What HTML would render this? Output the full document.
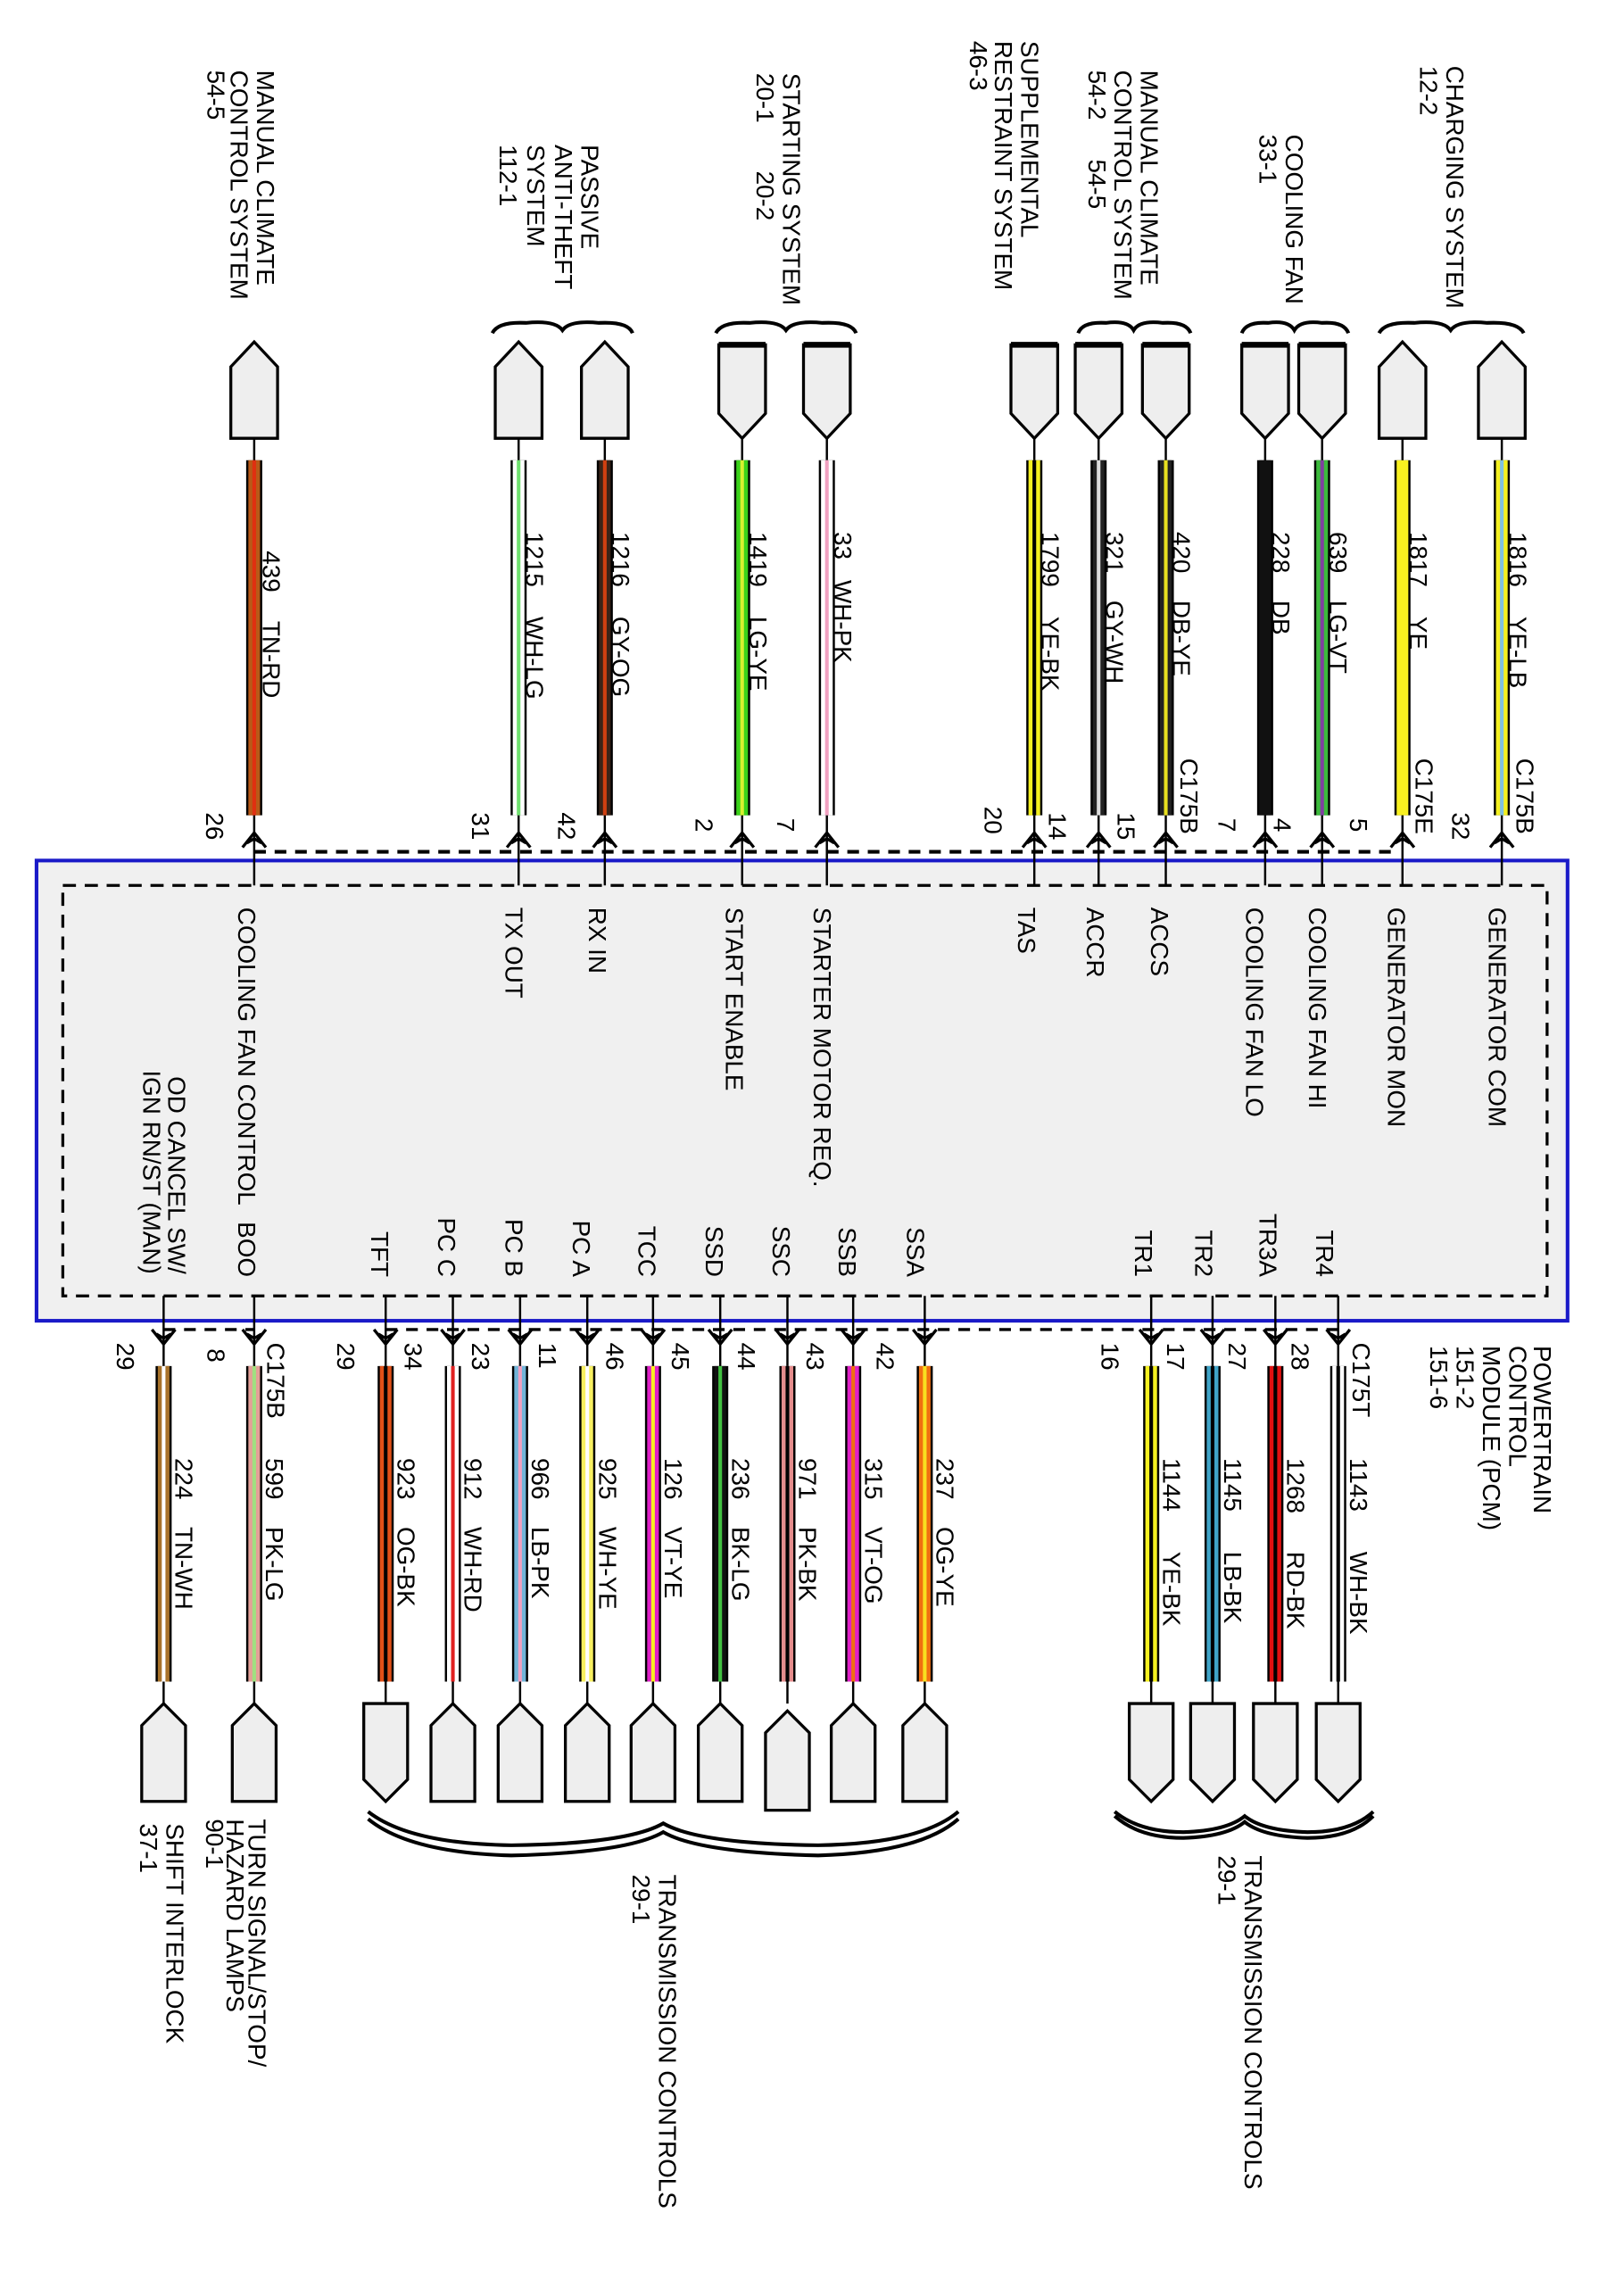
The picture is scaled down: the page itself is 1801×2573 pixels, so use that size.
<!DOCTYPE html>
<html><head><meta charset="utf-8"><style>
html,body{margin:0;padding:0;background:#fff}
svg{display:block}
text{font-family:"Liberation Sans",Arial,sans-serif;font-size:17px;fill:#000}
</style></head><body>
<svg width="1801" height="2573" viewBox="0 0 1100 1571.5" xmlns="http://www.w3.org/2000/svg">
<defs>
<g id="arrUp"><path d="M-8,6 L0,-4 L8,6 M-5,3 L0,0 L5,3" fill="none" stroke="#000" stroke-width="2"/></g>
<g id="arrDn"><path d="M-8,-6 L0,4 L8,-6 M-5,-3 L0,0 L5,-3" fill="none" stroke="#000" stroke-width="2"/></g>
</defs>
<rect x="25" y="589" width="1048" height="315" fill="#f0f0f0" stroke="#1a1ac8" stroke-width="2.5"/>
<rect x="43" y="606" width="1016" height="281" fill="none" stroke="#000" stroke-width="2" stroke-dasharray="9,6"/>
<line x1="174" y1="583" x2="958" y2="583" stroke="#000" stroke-width="2.5" stroke-dasharray="8,6"/>
<line x1="112" y1="910" x2="174" y2="910" stroke="#000" stroke-width="2" stroke-dasharray="8,6"/>
<line x1="264" y1="910" x2="916" y2="910" stroke="#000" stroke-width="2" stroke-dasharray="8,6"/>

<g stroke="#000" stroke-width="1.5">
<line x1="174" y1="300" x2="174" y2="606"/><line x1="355" y1="300" x2="355" y2="606"/>
<line x1="414" y1="300" x2="414" y2="606"/><line x1="508" y1="300" x2="508" y2="606"/>
<line x1="566" y1="300" x2="566" y2="606"/><line x1="708" y1="300" x2="708" y2="606"/>
<line x1="752" y1="300" x2="752" y2="606"/><line x1="798" y1="300" x2="798" y2="606"/>
<line x1="866" y1="300" x2="866" y2="606"/><line x1="905" y1="300" x2="905" y2="606"/>
<line x1="960" y1="300" x2="960" y2="606"/><line x1="1028" y1="300" x2="1028" y2="606"/>
<line x1="112" y1="887" x2="112" y2="1166"/><line x1="174" y1="887" x2="174" y2="1166"/>
<line x1="264" y1="887" x2="264" y2="1166"/><line x1="310" y1="887" x2="310" y2="1166"/>
<line x1="356" y1="887" x2="356" y2="1166"/><line x1="402" y1="887" x2="402" y2="1166"/>
<line x1="447" y1="887" x2="447" y2="1166"/><line x1="493" y1="887" x2="493" y2="1166"/>
<line x1="539" y1="887" x2="539" y2="1166"/><line x1="584" y1="887" x2="584" y2="1166"/>
<line x1="633" y1="887" x2="633" y2="1166"/><line x1="788" y1="887" x2="788" y2="1166"/>
<line x1="830" y1="887" x2="830" y2="1166"/><line x1="873" y1="887" x2="873" y2="1166"/>
<line x1="916" y1="887" x2="916" y2="1166"/>
</g>

<g stroke-linecap="butt">
<g stroke="#000" stroke-width="11">
<line x1="174" y1="315" x2="174" y2="558"/><line x1="355" y1="315" x2="355" y2="558"/><line x1="414" y1="315" x2="414" y2="558"/><line x1="508" y1="315" x2="508" y2="558"/><line x1="566" y1="315" x2="566" y2="558"/><line x1="708" y1="315" x2="708" y2="558"/><line x1="752" y1="315" x2="752" y2="558"/><line x1="798" y1="315" x2="798" y2="558"/><line x1="866" y1="315" x2="866" y2="558"/><line x1="905" y1="315" x2="905" y2="558"/><line x1="960" y1="315" x2="960" y2="558"/><line x1="1028" y1="315" x2="1028" y2="558"/>
<line x1="112" y1="935" x2="112" y2="1151"/><line x1="174" y1="935" x2="174" y2="1151"/><line x1="264" y1="935" x2="264" y2="1151"/><line x1="310" y1="935" x2="310" y2="1151"/><line x1="356" y1="935" x2="356" y2="1151"/><line x1="402" y1="935" x2="402" y2="1151"/><line x1="447" y1="935" x2="447" y2="1151"/><line x1="493" y1="935" x2="493" y2="1151"/><line x1="539" y1="935" x2="539" y2="1151"/><line x1="584" y1="935" x2="584" y2="1151"/><line x1="633" y1="935" x2="633" y2="1151"/><line x1="788" y1="935" x2="788" y2="1151"/><line x1="830" y1="935" x2="830" y2="1151"/><line x1="873" y1="935" x2="873" y2="1151"/><line x1="916" y1="935" x2="916" y2="1151"/>
</g>
<g stroke-width="8">
<line x1="174" y1="315" x2="174" y2="558" stroke="#b85a18"/>
<line x1="355" y1="315" x2="355" y2="558" stroke="#fff"/>
<line x1="414" y1="315" x2="414" y2="558" stroke="#3a2418"/>
<line x1="508" y1="315" x2="508" y2="558" stroke="#3ad21a"/>
<line x1="566" y1="315" x2="566" y2="558" stroke="#fff"/>
<line x1="708" y1="315" x2="708" y2="558" stroke="#f4f020"/>
<line x1="752" y1="315" x2="752" y2="558" stroke="#222"/>
<line x1="798" y1="315" x2="798" y2="558" stroke="#222"/>
<line x1="866" y1="315" x2="866" y2="558" stroke="#111"/>
<line x1="905" y1="315" x2="905" y2="558" stroke="#3cba3c"/>
<line x1="960" y1="315" x2="960" y2="558" stroke="#f8f020"/>
<line x1="1028" y1="315" x2="1028" y2="558" stroke="#f4f020"/>
<line x1="112" y1="935" x2="112" y2="1151" stroke="#a8722a"/>
<line x1="174" y1="935" x2="174" y2="1151" stroke="#e4a098"/>
<line x1="264" y1="935" x2="264" y2="1151" stroke="#e05018"/>
<line x1="310" y1="935" x2="310" y2="1151" stroke="#fff"/>
<line x1="356" y1="935" x2="356" y2="1151" stroke="#70b4d8"/>
<line x1="402" y1="935" x2="402" y2="1151" stroke="#f8f060"/>
<line x1="447" y1="935" x2="447" y2="1151" stroke="#e020c8"/>
<line x1="493" y1="935" x2="493" y2="1151" stroke="#111"/>
<line x1="539" y1="935" x2="539" y2="1151" stroke="#e48c8c"/>
<line x1="584" y1="935" x2="584" y2="1151" stroke="#e020c8"/>
<line x1="633" y1="935" x2="633" y2="1151" stroke="#f07010"/>
<line x1="788" y1="935" x2="788" y2="1151" stroke="#f4f020"/>
<line x1="830" y1="935" x2="830" y2="1151" stroke="#40a4c8"/>
<line x1="873" y1="935" x2="873" y2="1151" stroke="#e01010"/>
<line x1="916" y1="935" x2="916" y2="1151" stroke="#fff"/>
</g>
<g stroke-width="2.5">
<line x1="174" y1="315" x2="174" y2="558" stroke="#e03010"/>
<line x1="355" y1="315" x2="355" y2="558" stroke="#70e070"/>
<line x1="414" y1="315" x2="414" y2="558" stroke="#d04010"/>
<line x1="508" y1="315" x2="508" y2="558" stroke="#d8f030"/>
<line x1="566" y1="315" x2="566" y2="558" stroke="#f0a0c0"/>
<line x1="708" y1="315" x2="708" y2="558" stroke="#000"/>
<line x1="752" y1="315" x2="752" y2="558" stroke="#ddd"/>
<line x1="798" y1="315" x2="798" y2="558" stroke="#e8e020"/>
<line x1="905" y1="315" x2="905" y2="558" stroke="#8040a0"/>
<line x1="1028" y1="315" x2="1028" y2="558" stroke="#80c0e0"/>
<line x1="112" y1="935" x2="112" y2="1151" stroke="#fff"/>
<line x1="174" y1="935" x2="174" y2="1151" stroke="#a0e080"/>
<line x1="264" y1="935" x2="264" y2="1151" stroke="#000"/>
<line x1="310" y1="935" x2="310" y2="1151" stroke="#e02020"/>
<line x1="356" y1="935" x2="356" y2="1151" stroke="#f0a0c0"/>
<line x1="402" y1="935" x2="402" y2="1151" stroke="#fff"/>
<line x1="447" y1="935" x2="447" y2="1151" stroke="#f8f020"/>
<line x1="493" y1="935" x2="493" y2="1151" stroke="#40c040"/>
<line x1="539" y1="935" x2="539" y2="1151" stroke="#000"/>
<line x1="584" y1="935" x2="584" y2="1151" stroke="#f07010"/>
<line x1="633" y1="935" x2="633" y2="1151" stroke="#f8e020"/>
<line x1="788" y1="935" x2="788" y2="1151" stroke="#000"/>
<line x1="830" y1="935" x2="830" y2="1151" stroke="#000"/>
<line x1="873" y1="935" x2="873" y2="1151" stroke="#000"/>
<line x1="916" y1="935" x2="916" y2="1151" stroke="#000"/>
</g>
</g>

<use href="#arrUp" x="174" y="574"/><use href="#arrUp" x="355" y="574"/><use href="#arrUp" x="414" y="574"/><use href="#arrUp" x="508" y="574"/><use href="#arrUp" x="566" y="574"/><use href="#arrUp" x="708" y="574"/><use href="#arrUp" x="752" y="574"/><use href="#arrUp" x="798" y="574"/><use href="#arrUp" x="866" y="574"/><use href="#arrUp" x="905" y="574"/><use href="#arrUp" x="960" y="574"/><use href="#arrUp" x="1028" y="574"/>
<use href="#arrDn" x="112" y="916"/><use href="#arrDn" x="174" y="916"/><use href="#arrDn" x="264" y="916"/><use href="#arrDn" x="310" y="916"/><use href="#arrDn" x="356" y="916"/><use href="#arrDn" x="402" y="916"/><use href="#arrDn" x="447" y="916"/><use href="#arrDn" x="493" y="916"/><use href="#arrDn" x="539" y="916"/><use href="#arrDn" x="584" y="916"/><use href="#arrDn" x="633" y="916"/><use href="#arrDn" x="788" y="916"/><use href="#arrDn" x="830" y="916"/><use href="#arrDn" x="873" y="916"/><use href="#arrDn" x="916" y="916"/>

<g fill="#eee" stroke="#000" stroke-width="2">
<path d="M158,300 L158,251 L174,234 L190,251 L190,300 Z"/>
<path d="M339,300 L339,251 L355,234 L371,251 L371,300 Z"/>
<path d="M398,300 L398,251 L414,234 L430,251 L430,300 Z"/>
<path d="M944,300 L944,251 L960,234 L976,251 L976,300 Z"/>
<path d="M1012,300 L1012,251 L1028,234 L1044,251 L1044,300 Z"/>
<path d="M492,236 L524,236 L524,283 L508,300 L492,283 Z"/>
<path d="M550,236 L582,236 L582,283 L566,300 L550,283 Z"/>
<path d="M692,236 L724,236 L724,283 L708,300 L692,283 Z"/>
<path d="M736,236 L768,236 L768,283 L752,300 L736,283 Z"/>
<path d="M782,236 L814,236 L814,283 L798,300 L782,283 Z"/>
<path d="M850,236 L882,236 L882,283 L866,300 L850,283 Z"/>
<path d="M889,236 L921,236 L921,283 L905,300 L889,283 Z"/>
</g>
<g stroke="#000" stroke-width="4">
<line x1="492" y1="236" x2="524" y2="236"/><line x1="550" y1="236" x2="582" y2="236"/><line x1="692" y1="236" x2="724" y2="236"/><line x1="736" y1="236" x2="768" y2="236"/><line x1="782" y1="236" x2="814" y2="236"/><line x1="850" y1="236" x2="882" y2="236"/><line x1="889" y1="236" x2="921" y2="236"/>
</g>
<g fill="#eee" stroke="#000" stroke-width="2">
<path d="M97,1233 L97,1181 L112,1166 L127,1181 L127,1233 Z"/>
<path d="M159,1233 L159,1181 L174,1166 L189,1181 L189,1233 Z"/>
<path d="M249,1166 L279,1166 L279,1218 L264,1233 L249,1218 Z"/>
<path d="M295,1233 L295,1181 L310,1166 L325,1181 L325,1233 Z"/>
<path d="M341,1233 L341,1181 L356,1166 L371,1181 L371,1233 Z"/>
<path d="M387,1233 L387,1181 L402,1166 L417,1181 L417,1233 Z"/>
<path d="M432,1233 L432,1181 L447,1166 L462,1181 L462,1233 Z"/>
<path d="M478,1233 L478,1181 L493,1166 L508,1181 L508,1233 Z"/>
<path d="M524,1239 L524,1186 L539,1171 L554,1186 L554,1239 Z"/>
<path d="M569,1233 L569,1181 L584,1166 L599,1181 L599,1233 Z"/>
<path d="M618,1233 L618,1181 L633,1166 L648,1181 L648,1233 Z"/>
<path d="M773,1166 L803,1166 L803,1218 L788,1233 L773,1218 Z"/>
<path d="M815,1166 L845,1166 L845,1218 L830,1233 L815,1218 Z"/>
<path d="M858,1166 L888,1166 L888,1218 L873,1233 L858,1218 Z"/>
<path d="M901,1166 L931,1166 L931,1218 L916,1233 L901,1218 Z"/>
</g>

<g fill="none" stroke="#000" stroke-width="2.5">
<path d="M337,228 Q341,220 360,221 Q380,219 385,226 Q390,219 410,221 Q430,220 433,228"/>
<path d="M490,228 Q494,220 513,221 Q533,219 538,226 Q543,219 563,221 Q583,220 586,228"/>
<path d="M738,228 Q741,220 757,221 Q772,219 776,226 Q780,219 796,221 Q812,220 815,228"/>
<path d="M850,228 Q853,220 868,221 Q882,219 886,226 Q890,219 905,221 Q920,220 923,228"/>
<path d="M944,228 Q948,220 968,221 Q988,219 993,226 Q998,219 1018,221 Q1039,220 1043,228"/>
<path d="M252,1240 Q280,1262 350,1263 Q430,1262 454,1248 Q478,1262 560,1263 Q630,1262 656,1240"/>
<path d="M252,1245 Q280,1268 350,1270 Q430,1268 454,1254 Q478,1268 560,1270 Q630,1268 656,1245"/>
<path d="M763,1240 Q780,1254 810,1254 Q840,1253 852,1243 Q864,1253 895,1254 Q925,1254 940,1240"/>
<path d="M763,1243 Q780,1258 810,1258 Q840,1257 852,1247 Q864,1257 895,1258 Q925,1258 940,1243"/>
</g>

<g>
<text transform="translate(176,48) rotate(90)">MANUAL CLIMATE</text>
<text transform="translate(158,48) rotate(90)">CONTROL SYSTEM</text>
<text transform="translate(142,48) rotate(90)">54-5</text>
<text transform="translate(398,99) rotate(90)">PASSIVE</text>
<text transform="translate(380,99) rotate(90)">ANTI-THEFT</text>
<text transform="translate(361,99) rotate(90)">SYSTEM</text>
<text transform="translate(342,99) rotate(90)">112-1</text>
<text transform="translate(536,50) rotate(90)">STARTING SYSTEM</text>
<text transform="translate(518,50) rotate(90)">20-1</text>
<text transform="translate(518,117) rotate(90)">20-2</text>
<text transform="translate(699,28) rotate(90)">SUPPLEMENTAL</text>
<text transform="translate(681,28) rotate(90)">RESTRAINT SYSTEM</text>
<text transform="translate(664,28) rotate(90)">46-3</text>
<text transform="translate(781,48) rotate(90)">MANUAL CLIMATE</text>
<text transform="translate(763,48) rotate(90)">CONTROL SYSTEM</text>
<text transform="translate(745,48) rotate(90)">54-2</text>
<text transform="translate(745,109) rotate(90)">54-5</text>
<text transform="translate(880,92) rotate(90)">COOLING FAN</text>
<text transform="translate(862,92) rotate(90)">33-1</text>
<text transform="translate(990,45) rotate(90)">CHARGING SYSTEM</text>
<text transform="translate(972,45) rotate(90)">12-2</text>

<text transform="translate(180,377) rotate(90)">439<tspan x="48">TN-RD</tspan></text>
<text transform="translate(360,364) rotate(90)">1215<tspan x="58">WH-LG</tspan></text>
<text transform="translate(419,364) rotate(90)">1216<tspan x="58">GY-OG</tspan></text>
<text transform="translate(513,364) rotate(90)">1419<tspan x="58">LG-YE</tspan></text>
<text transform="translate(571,364) rotate(90)">33<tspan x="33">WH-PK</tspan></text>
<text transform="translate(713,364) rotate(90)">1799<tspan x="58">YE-BK</tspan></text>
<text transform="translate(757,364) rotate(90)">321<tspan x="47">GY-WH</tspan></text>
<text transform="translate(803,364) rotate(90)">420<tspan x="47">DB-YE</tspan></text>
<text transform="translate(871,364) rotate(90)">228<tspan x="47">DB</tspan></text>
<text transform="translate(910,364) rotate(90)">639<tspan x="47">LG-VT</tspan></text>
<text transform="translate(965,364) rotate(90)">1817<tspan x="58">YE</tspan></text>
<text transform="translate(1033,364) rotate(90)">1816<tspan x="58">YE-LB</tspan></text>
<text transform="translate(808,519) rotate(90)">C175B</text>
<text transform="translate(969,519) rotate(90)">C175E</text>
<text transform="translate(1038,519) rotate(90)">C175B</text>

<text transform="translate(141,556) rotate(90)">26</text>
<text transform="translate(323,556) rotate(90)">31</text>
<text transform="translate(382,556) rotate(90)">42</text>
<text transform="translate(476,560) rotate(90)">2</text>
<text transform="translate(532,560) rotate(90)">7</text>
<text transform="translate(674,552) rotate(90)">20</text>
<text transform="translate(718,556) rotate(90)">14</text>
<text transform="translate(765,556) rotate(90)">15</text>
<text transform="translate(834,560) rotate(90)">7</text>
<text transform="translate(872,560) rotate(90)">4</text>
<text transform="translate(924,560) rotate(90)">5</text>
<text transform="translate(994,556) rotate(90)">32</text>

<text transform="translate(163,621) rotate(90)">COOLING FAN CONTROL</text>
<text transform="translate(346,621) rotate(90)">TX OUT</text>
<text transform="translate(403,621) rotate(90)">RX IN</text>
<text transform="translate(497,621) rotate(90)">START ENABLE</text>
<text transform="translate(557,621) rotate(90)">STARTER MOTOR REQ.</text>
<text transform="translate(697,621) rotate(90)">TAS</text>
<text transform="translate(744,621) rotate(90)">ACCR</text>
<text transform="translate(788,621) rotate(90)">ACCS</text>
<text transform="translate(853,621) rotate(90)">COOLING FAN LO</text>
<text transform="translate(896,621) rotate(90)">COOLING FAN HI</text>
<text transform="translate(950,621) rotate(90)">GENERATOR MON</text>
<text transform="translate(1019,621) rotate(90)">GENERATOR COM</text>

<g text-anchor="end">
<text transform="translate(115,872) rotate(90)">OD CANCEL SW/</text>
<text transform="translate(98,872) rotate(90)">IGN RN/ST (MAN)</text>
<text transform="translate(163,874) rotate(90)">BOO</text>
<text transform="translate(254,874) rotate(90)">TFT</text>
<text transform="translate(300,874) rotate(90)">PC C</text>
<text transform="translate(346,874) rotate(90)">PC B</text>
<text transform="translate(392,874) rotate(90)">PC A</text>
<text transform="translate(437,874) rotate(90)">TCC</text>
<text transform="translate(483,874) rotate(90)">SSD</text>
<text transform="translate(529,874) rotate(90)">SSC</text>
<text transform="translate(574,874) rotate(90)">SSB</text>
<text transform="translate(621,874) rotate(90)">SSA</text>
<text transform="translate(777,874) rotate(90)">TR1</text>
<text transform="translate(818,874) rotate(90)">TR2</text>
<text transform="translate(862,874) rotate(90)">TR3A</text>
<text transform="translate(901,874) rotate(90)">TR4</text>
</g>

<text transform="translate(80,919) rotate(90)">29</text>
<text transform="translate(142,923) rotate(90)">8</text>
<text transform="translate(231,919) rotate(90)">29</text>
<text transform="translate(277,919) rotate(90)">34</text>
<text transform="translate(323,919) rotate(90)">23</text>
<text transform="translate(369,919) rotate(90)">11</text>
<text transform="translate(415,919) rotate(90)">46</text>
<text transform="translate(460,919) rotate(90)">45</text>
<text transform="translate(505,919) rotate(90)">44</text>
<text transform="translate(552,919) rotate(90)">43</text>
<text transform="translate(600,919) rotate(90)">42</text>
<text transform="translate(754,919) rotate(90)">16</text>
<text transform="translate(799,919) rotate(90)">17</text>
<text transform="translate(841,919) rotate(90)">27</text>
<text transform="translate(884,919) rotate(90)">28</text>
<text transform="translate(183,919) rotate(90)">C175B</text>
<text transform="translate(926,919) rotate(90)">C175T</text>

<text transform="translate(120,998) rotate(90)">224<tspan x="47">TN-WH</tspan></text>
<text transform="translate(182,998) rotate(90)">599<tspan x="47">PK-LG</tspan></text>
<text transform="translate(272,998) rotate(90)">923<tspan x="47">OG-BK</tspan></text>
<text transform="translate(318,998) rotate(90)">912<tspan x="47">WH-RD</tspan></text>
<text transform="translate(364,998) rotate(90)">966<tspan x="47">LB-PK</tspan></text>
<text transform="translate(410,998) rotate(90)">925<tspan x="47">WH-YE</tspan></text>
<text transform="translate(455,998) rotate(90)">126<tspan x="47">VT-YE</tspan></text>
<text transform="translate(501,998) rotate(90)">236<tspan x="47">BK-LG</tspan></text>
<text transform="translate(547,998) rotate(90)">971<tspan x="47">PK-BK</tspan></text>
<text transform="translate(592,998) rotate(90)">315<tspan x="47">VT-OG</tspan></text>
<text transform="translate(641,998) rotate(90)">237<tspan x="47">OG-YE</tspan></text>
<text transform="translate(796,998) rotate(90)">1144<tspan x="64">YE-BK</tspan></text>
<text transform="translate(838,998) rotate(90)">1145<tspan x="64">LB-BK</tspan></text>
<text transform="translate(881,998) rotate(90)">1268<tspan x="64">RD-BK</tspan></text>
<text transform="translate(924,998) rotate(90)">1143<tspan x="64">WH-BK</tspan></text>

<text transform="translate(1050,921) rotate(90)">POWERTRAIN</text>
<text transform="translate(1033,921) rotate(90)">CONTROL</text>
<text transform="translate(1015,921) rotate(90)">MODULE (PCM)</text>
<text transform="translate(997,921) rotate(90)">151-2</text>
<text transform="translate(979,921) rotate(90)">151-6</text>

<text transform="translate(170,1245) rotate(90)">TURN SIGNAL/STOP/</text>
<text transform="translate(155,1245) rotate(90)">HAZARD LAMPS</text>
<text transform="translate(141,1245) rotate(90)">90-1</text>
<text transform="translate(114,1248) rotate(90)">SHIFT INTERLOCK</text>
<text transform="translate(96,1248) rotate(90)">37-1</text>
<text transform="translate(451,1283) rotate(90)">TRANSMISSION CONTROLS</text>
<text transform="translate(433,1283) rotate(90)">29-1</text>
<text transform="translate(852,1270) rotate(90)">TRANSMISSION CONTROLS</text>
<text transform="translate(834,1270) rotate(90)">29-1</text>
</g>
</svg>
</body></html>
